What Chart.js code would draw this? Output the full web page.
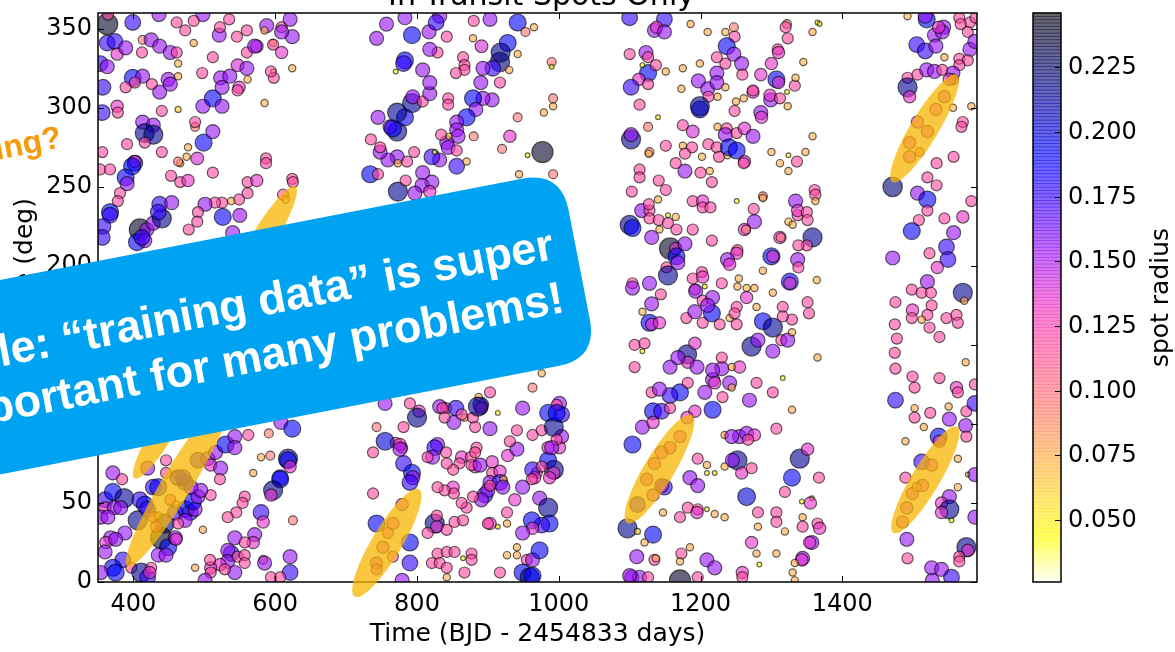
<!DOCTYPE html>
<html>
<head>
<meta charset="utf-8">
<script src="https://cdn.jsdelivr.net/npm/chart.js@4.4.0/dist/chart.umd.min.js"></script>
<style>
html, body { margin: 0; padding: 0; background: #fff; }
#wrap { width: 1175px; height: 652px; }
</style>
</head>
<body>
<div id="wrap"><canvas id="spots" width="1175" height="652"></canvas></div>
<script>
// in-transit spots, one array per observing season: [time, longitude, spot radius]
const season1 = [
  [363,353,.24],[399,354,.175],[436,359,.155],[364,359,.12],[413,343,.095],[425,343,.155],[437,339,.155],[452,335,.155],[461,335,.12],[463,328,.075],
  [363,341,.175],[374,342,.175],[377,334,.135],[389,338,.155],[412,335,.12],[353,328,.175],[363,326,.155],[399,319,.19],[413,320,.155],[426,315,.12],
  [437,310,.155],[449,318,.155],[452,315,.155],[463,320,.075],[389,313,.12],[402,316,.12],[357,313,.175],[377,301,.135],[378,297,.12],[356,297,.175],
  [413,291,.155],[428,289,.155],[416,284,.215],[428,283,.215],[416,278,.12],[391,277,.12],[440,298,.12],[463,299,.06],[440,272,.12],[402,265,.175],
  [402,266,.135],[398,263,.19],[356,272,.12],[353,261,.12],[367,261,.12],[389,256,.19],[391,252,.155],[381,246,.12],[378,241,.12],[367,234,.19],
  [367,232,.175],[357,225,.175],[356,218,.175],[409,223,.24],[419,223,.155],[428,227,.155],[440,230,.215],[437,239,.175],[454,240,.155],[405,215,.19],
  [416,216,.155],[466,265,.075],[453,257,.12],[466,253,.12],[477,254,.135],[477,275,.075],[475,269,.075],[490,268,.14],[499,278,.19],[512,285,.155],
  [487,288,.095],[487,291,.12],[463,266,.095],[512,259,.12],[498,301,.155],[512,306,.19],[525,301,.155],[497,322,.12],[523,319,.155],[525,313,.155],
  [536,320,.155],[547,327,.14],[560,325,.155],[549,313,.135],[547,311,.12],[512,332,.12],[560,335,.12],[574,339,.14],[571,339,.155],[546,345,.12],
  [521,346,.155],[522,351,.12],[535,356,.12],[498,359,.155],[485,355,.12],[461,354,.12],[473,349,.12],[485,341,.075],[560,349,.12],[588,352,.155],
  [585,349,.075],[609,351,.12],[621,356,.155],[624,345,.155],[609,348,.155],[597,341,.075],[597,340,.12],[609,335,.135],[597,323,.045],[598,319,.12],
  [594,323,.12],[561,318,.075],[624,325,.075],[585,303,.075],[587,268,.12],[587,265,.12],[561,253,.12],[574,254,.135],[624,255,.12],[625,253,.12],
  [611,245,.12],[615,242,.075],[561,246,.12],[549,242,.12],[538,241,.075],[525,240,.12],[515,240,.12],[501,239,.155],[491,234,.12],[490,228,.12],
  [526,231,.19],[550,232,.155],[540,221,.155],[478,223,.12],[412,218,.175],[435,234,.175],
  [371,69,.155],[384,65,.12],[360,52,.175],[371,57,.19],[387,53,.215],[360,47,.135],[373,47,.155],[382,47,.155],[354,41,.155],[364,41,.155],
  [409,52,.175],[416,49,.19],[428,60,.175],[435,60,.19],[420,72,.155],[446,77,.12],[446,69,.12],[460,68,.075],[406,39,.215],[420,46,.175],
  [388,31,.155],[368,28,.155],[361,25,.135],[360,19,.155],[375,27,.155],[385,14,.175],[371,9,.19],[375,6,.19],[354,6,.155],[397,9,.12],
  [411,6,.215],[420,3,.175],[425,9,.12],[423,6,.135],[444,37,.215],[439,28,.24],[449,22,.19],[435,17,.155],[446,17,.155],[459,28,.155],
  [460,27,.135],[428,41,.12],[435,42,.075],[432,35,.12],[459,44,.175],[474,46,.19],[480,44,.175],[473,39,.155],[487,46,.155],[463,37,.12],
  [452,52,.12],[460,49,.075],[484,51,.19],[491,54,.155],[509,55,.12],[495,58,.155],[481,60,.155],[473,63,.175],[470,66,.175],[463,66,.175],
  [491,77,.175],[505,78,.155],[509,74,.135],[523,72,.155],[522,65,.12],[516,82,.155],[530,87,.19],[543,92,.155],[543,85,.155],[562,93,.12],
  [580,79,.075],[593,80,.095],[618,78,.215],[618,77,.19],[621,73,.135],[607,66,.175],[607,65,.19],[597,58,.215],[594,55,.135],[569,69,.075],
  [557,54,.12],[554,50,.12],[545,44,.12],[533,41,.12],[580,44,.175],[583,38,.135],[625,39,.095],[498,33,.075],[543,28,.155],[571,30,.155],
  [569,25,.135],[557,25,.12],[538,18,.175],[533,20,.155],[533,13,.155],[547,16,.12],[557,17,.12],[557,12,.12],[583,14,.095],[585,12,.155],
  [621,16,.155],[621,6,.175],[543,6,.155],[522,11,.135],[509,9,.135],[529,8,.12],[509,6,.12],[501,1,.155],[487,9,.075],[508,14,.12],
  [594,3,.12],[607,3,.12],[608,101,.155],[624,97,.19],[591,94,.095]
];
const season2 = [
  [757,353,.155],[743,344,.155],[783,357,.155],[793,346,.19],[817,348,.155],[832,358,.155],[827,354,.175],[829,335,.12],[818,337,.155],[842,345,.12],
  [879,344,.075],[891,339,.14],[880,355,.12],[903,356,.155],[942,354,.19],[928,341,.19],[918,335,.215],[917,329,.22],[907,325,.175],[893,325,.155],
  [865,332,.12],[867,327,.12],[867,324,.12],[855,322,.12],[930,324,.075],[942,334,.075],[953,348,.095],[965,351,.075],[917,316,.12],[890,316,.155],
  [906,305,.155],[893,306,.155],[879,306,.19],[883,299,.155],[870,294,.19],[856,291,.155],[856,286,.155],[858,282,.155],[842,278,.155],[834,283,.12],
  [845,282,.06],[844,275,.155],[832,267,.155],[821,269,.175],[856,263,.175],[870,266,.075],[856,273,.12],[880,282,.095],[825,272,.045],[808,259,.155],
  [821,253,.155],[807,251,.155],[818,247,.135],[797,246,.155],[773,247,.215],[784,254,.12],[734,258,.19],[745,258,.12],[772,269,.155],[759,267,.155],
  [786,266,.12],[773,265,.075],[796,272,.12],[748,272,.155],[748,275,.12],[735,280,.12],[772,285,.215],[762,288,.155],[766,287,.19],[783,294,.19],
  [772,297,.215],[745,294,.155],[793,303,.215],[794,307,.155],[808,304,.12],[818,309,.155],[818,316,.155],[808,324,.155],[783,330,.19],[781,328,.175],
  [770,323,.045],[844,306,.12],[844,302,.12],[920,274,.095],[931,282,.135],[942,294,.095],[956,270,.045],[944,258,.075],[977,272,.24],[979,297,.075],
  [992,301,.075],[992,306,.095],[990,329,.095],[990,326,.045],[992,258,.095],
  [755,113,.155],[803,108,.135],[800,104,.215],[841,110,.12],[855,110,.175],[890,112,.175],[891,110,.135],[903,120,.12],[887,117,.075],[914,107,.045],
  [949,110,.155],[963,123,.095],[976,132,.075],[1001,113,.155],[1004,106,.175],[867,104,.075],[879,104,.12],[852,101,.155],[882,98,.12],[903,97,.155],
  [941,96,.12],[963,93,.12],[976,96,.12],[781,98,.12],[743,98,.095],[770,88,.12],[755,89,.2],[779,85,.12],[781,75,.175],[793,69,.19],
  [794,66,.155],[829,87,.155],[825,85,.175],[841,82,.12],[822,79,.155],[863,79,.135],[876,79,.12],[860,75,.12],[882,73,.135],[906,76,.135],
  [928,80,.135],[906,69,.12],[917,70,.135],[903,63,.155],[917,63,.175],[969,69,.12],[941,84,.155],[922,65,.075],[884,85,.12],[882,82,.12],
  [985,77,.19],[993,71,.215],[993,69,.135],[1004,92,.155],[1001,85,.135],[963,71,.175],[966,66,.135],[985,107,.19],[993,98,.215],
  [790,113,.12],[776,87,.135],[776,84,.155],[738,82,.12],[790,63,.175],[738,56,.12],[743,37,.19],[790,25,.19],[790,12,.175],[779,1,.155],
  [766,16,.12],[759,31,.12],[766,37,.135],[779,49,.135],[752,22,.135],[743,12,.135],[743,8,.12],
  [832,111,.155],[836,110,.12],[839,104,.12],[863,106,.12],[886,111,.215],[931,89,.12],[997,112,.12],[997,107,.19],[997,90,.12],
  [985,85,.135],[990,85,.155],[987,66,.135],[976,73,.12],[962,65,.12],[949,60,.155],[938,52,.135],[973,53,.155],[985,47,.215],[987,37,.19],
  [976,36,.175],[962,39,.19],[963,34,.135],[949,31,.155],[927,44,.12],[927,37,.075],[914,35,.045],[903,37,.135],[896,55,.175],[900,58,.155],
  [891,52,.155],[879,54,.12],[870,47,.12],[863,50,.12],[851,60,.135],[852,56,.12],[839,58,.12],[829,60,.12],[815,79,.12],[851,71,.12],
  [842,75,.12],[877,74,.12],[889,74,.155],[903,61,.12],[921,60,.155],[825,37,.215],[828,35,.135],[828,42,.12],[815,31,.12],[842,33,.12],
  [853,38,.12],[865,39,.12],[821,12,.12],[829,18,.12],[832,12,.12],[842,9,.12],[842,19,.12],[853,19,.12],[842,3,.075],[867,6,.12],
  [865,15,.045],[877,18,.12],[877,14,.12],[900,37,.12],[917,6,.12],[927,17,.075],[941,22,.075],[941,17,.075],[955,14,.12],[963,14,.155],
  [973,20,.19],[949,6,.19],[959,3,.215],[963,4,.19]
];
const season3 = [
  [1100,357,.175],[1100,334,.12],[1123,335,.155],[1126,322,.19],[1113,318,.135],[1126,315,.12],[1102,313,.175],[1114,302,.12],[1126,288,.095],[1102,280,.215],
  [1102,283,.155],[1128,272,.095],[1114,261,.12],[1114,256,.12],[1103,247,.12],[1117,235,.155],[1128,235,.12],[1128,230,.12],[1100,226,.215],[1104,224,.19],
  [1131,218,.155],[1135,349,.155],[1118,327,.045],[1140,294,.045],
  [1149,356,.175],[1138,351,.135],[1149,348,.155],[1186,353,.075],[1210,348,.075],[1235,348,.075],[1247,351,.095],[1248,345,.12],[1322,353,.095],[1320,351,.12],
  [1323,344,.12],[1309,337,.12],[1310,335,.135],[1358,348,.075],[1365,354,.045],[1368,353,.045],[1126,332,.12],[1137,327,.12],[1151,323,.075],[1151,276,.12],
  [1127,271,.075],[1141,254,.12],[1151,248,.12],[1140,242,.075],[1127,239,.12],[1141,229,.12],[1154,227,.12],[1165,231,.075],[1154,232,.045],[1142,223,.075],
  [1166,223,.12],[1189,223,.12],[1157,211,.24],[1165,211,.135],[1166,206,.19],[1168,202,.155],[1178,214,.155],[1152,199,.12],[1154,194,.215],[1104,189,.12],
  [1104,186,.155],[1128,189,.155],[1144,182,.12],[1131,176,.155],[1118,171,.075],[1128,164,.19],[1131,163,.135],[1142,164,.135],[1180,167,.12],[1192,171,.155],
  [1203,164,.12],[1216,170,.19],[1227,163,.12],[1241,167,.075],[1251,163,.12],[1175,325,.075],[1173,312,.075],[1199,328,.075],[1197,317,.155],[1210,312,.155],
  [1211,307,.12],[1223,322,.155],[1235,328,.12],[1223,332,.12],[1237,339,.19],[1247,334,.155],[1258,328,.155],[1259,321,.12],[1223,316,.155],[1235,313,.075],
  [1224,307,.075],[1199,299,.19],[1199,301,.215],[1248,298,.12],[1250,304,.075],[1261,306,.075],[1274,310,.135],[1274,311,.12],[1285,297,.155],[1286,294,.135],
  [1285,321,.135],[1300,328,.135],[1307,318,.19],[1310,316,.135],[1299,305,.155],[1298,308,.135],[1312,306,.12],[1322,310,.045],[1333,314,.12],[1334,319,.075],
  [1323,301,.075],[1345,329,.075],[1358,282,.075],[1175,289,.12],[1189,285,.14],[1175,276,.075],[1188,275,.12],[1178,271,.12],[1165,265,.12],[1178,260,.155],
  [1200,259,.12],[1213,260,.075],[1216,253,.12],[1202,269,.075],[1211,277,.12],[1223,275,.12],[1226,269,.12],[1238,270,.075],[1224,288,.075],[1237,287,.12],
  [1235,283,.155],[1251,284,.12],[1262,287,.135],[1240,275,.19],[1251,273,.19],[1262,266,.135],[1261,265,.12],[1274,282,.155],[1300,272,.075],[1312,265,.075],
  [1324,260,.075],[1324,270,.045],[1336,266,.12],[1348,272,.075],[1189,241,.12],[1203,241,.135],[1203,237,.12],[1214,237,.12],[1251,241,.045],[1288,244,.095],
  [1288,243,.075],[1275,236,.12],[1276,228,.155],[1262,223,.135],[1264,223,.095],[1216,216,.12],[1252,210,.12],[1251,208,.135],[1238,204,.155],[1241,201,.135],
  [1300,206,.19],[1302,206,.135],[1312,218,.135],[1313,218,.095],[1324,228,.075],[1330,226,.075],[1337,232,.12],[1334,241,.155],[1337,235,.135],[1350,234,.12],
  [1351,229,.12],[1361,248,.12],[1362,245,.12],[1362,241,.075],[1358,218,.215],[1350,213,.12],[1338,213,.12],[1337,204,.155],[1338,199,.12],[1326,190,.19],
  [1326,189,.135],[1364,191,.075],[1288,197,.075],[1254,192,.075],[1265,186,.075],[1276,186,.075],[1265,180,.135],[1279,174,.075],[1251,174,.12],[1248,170,.12],
  [1302,183,.075],[1316,174,.12],[1288,165,.19],[1302,161,.215],[1329,166,.12],[1316,168,.12],[1351,177,.12],[1353,170,.12],[1192,185,.12],[1193,184,.155],
  [1206,187,.045],[1203,178,.12],[1217,180,.155],[1210,175,.155],[1230,189,.12],[1252,187,.075],[1189,192,.12],[1202,196,.12],[1203,193,.135],
  [1104,87,.19],[1097,34,.215],[1111,32,.06],[1133,30,.19],[1121,25,.075],[1110,16,.155],[1135,14,.12],[1103,3,.155],[1114,3,.155],[1126,3,.12],
  [1107,150,.12],[1121,151,.12],[1118,146,.045],[1107,136,.12],[1131,120,.12],[1133,108,.19],[1118,98,.155],[1133,101,.135],
  [1157,136,.155],[1181,144,.215],[1182,139,.135],[1195,136,.155],[1192,151,.135],[1168,142,.155],[1171,120,.19],[1157,118,.175],[1142,122,.155],[1145,108,.175],
  [1157,110,.12],[1182,126,.12],[1192,108,.135],[1217,109,.19],[1206,120,.155],[1217,128,.155],[1220,126,.135],[1231,117,.12],[1241,126,.155],[1244,123,.075],
  [1230,135,.155],[1230,142,.12],[1217,134,.155],[1255,136,.135],[1244,136,.075],[1272,149,.215],[1281,153,.155],[1302,146,.155],[1314,153,.12],[1323,153,.155],
  [1329,158,.075],[1279,126,.12],[1269,115,.155],[1302,120,.12],[1316,129,.045],[1329,109,.075],[1307,97,.12],[1255,92,.155],[1265,94,.155],[1276,93,.135],
  [1267,90,.12],[1234,93,.075],[1244,92,.155],[1252,77,.215],[1258,69,.135],[1245,77,.155],[1234,73,.075],[1272,72,.12],[1265,54,.2],[1196,78,.12],
  [1209,74,.075],[1209,69,.045],[1220,69,.045],[1185,66,.155],[1196,61,.155],[1182,47,.12],[1196,46,.12],[1195,44,.135],[1209,46,.045],[1220,43,.075],
  [1234,41,.075],[1171,41,.12],[1147,44,.075],[1149,60,.175],[1137,15,.075],[1173,18,.12],[1171,13,.075],[1185,22,.075],[1209,14,.155],[1220,9,.155],
  [1196,3,.12],[1171,1,.24],[1100,4,.155],[1259,6,.135],[1259,3,.12],[1272,25,.135],[1279,18,.075],[1283,11,.045],[1307,18,.075],[1281,44,.12],
  [1281,35,.075],[1307,44,.12],[1307,38,.12],[1319,32,.075],[1319,57,.12],[1329,66,.19],[1340,78,.215],[1351,84,.135],[1344,41,.075],[1343,51,.045],
  [1357,53,.045],[1355,50,.135],[1344,35,.12],[1365,37,.12],[1368,34,.135],[1357,25,.155],[1354,25,.135],[1344,15,.155],[1343,14,.135],[1333,12,.075],
  [1330,6,.075],[1333,1,.075],[1367,66,.12],[1365,142,.075],
  [1181,104,.135],[1171,92,.135],[1157,85,.135],[1145,82,.135],[1135,75,.135],[1124,65,.135],[1145,61,.155],[1133,55,.135],[1111,49,.175]
];
const season4 = [
  [1492,358,.075],[1519,356,.19],[1517,358,.155],[1543,351,.155],[1565,357,.12],[1580,354,.12],[1588,357,.12],[1577,348,.12],[1567,353,.12],[1530,346,.155],
  [1541,348,.155],[1536,351,.135],[1505,340,.175],[1517,336,.175],[1532,339,.155],[1544,332,.075],[1565,331,.12],[1580,337,.155],[1587,342,.155],[1577,330,.12],
  [1565,327,.12],[1492,319,.12],[1506,321,.12],[1519,324,.155],[1530,323,.155],[1541,324,.12],[1556,322,.155],[1556,318,.12],[1492,313,.215],[1495,307,.135],
  [1556,300,.075],[1570,291,.12],[1568,288,.12],[1582,301,.075],[1557,269,.12],[1533,265,.12],[1520,256,.12],[1533,251,.12],[1471,250,.22],[1506,246,.155],
  [1520,242,.19],[1520,235,.12],[1582,241,.12],[1508,229,.12],[1544,230,.12],[1570,231,.135],[1498,222,.19],[1557,221,.155],[1547,212,.175],[1549,204,.175],
  [1523,208,.12],[1534,199,.135],[1471,205,.155],[1520,190,.155],[1498,185,.12],[1512,183,.12],[1525,183,.12],[1570,183,.215],[1572,178,.075],[1475,177,.12],
  [1499,172,.135],[1526,175,.12],[1520,169,.12],[1498,167,.12],[1547,167,.12],[1561,169,.12],[1563,164,.12],[1474,163,.12],[1512,166,.075],[1523,161,.12],
  [1495,269,.135],[1495,278,.135],[1509,272,.095],[1506,291,.135],[1520,285,.135],[1532,299,.135],[1544,307,.135],[1551,318,.135],
  [1477,154,.12],[1537,155,.12],[1474,145,.12],[1475,135,.12],[1499,130,.12],[1502,123,.12],[1537,129,.12],[1574,139,.075],[1561,123,.135],[1563,120,.12],
  [1587,125,.12],[1475,115,.175],[1502,110,.075],[1524,107,.12],[1550,111,.075],[1502,104,.12],[1515,98,.075],[1551,103,.155],[1575,108,.12],[1587,113,.175],
  [1574,99,.155],[1575,92,.12],[1489,89,.075],[1536,92,.19],[1563,78,.075],[1489,66,.12],[1577,68,.045],[1587,68,.155],[1563,60,.075],[1512,76,.175],
  [1551,54,.155],[1540,50,.135],[1551,46,.215],[1540,44,.135],[1554,39,.045],[1587,41,.155],[1491,27,.155],[1492,15,.12],[1526,9,.155],[1540,8,.155],
  [1527,1,.155],[1554,3,.175],[1575,22,.215],[1577,20,.135],[1565,16,.12],[1565,13,.12],
  [1537,89,.135],[1526,74,.135],[1513,61,.135],[1499,56,.135],[1491,47,.135],[1485,38,.135],[1505,60,.095]
];

const xTicks = [400, 600, 800, 1000, 1200, 1400];
const yTicks = [0, 50, 100, 150, 200, 250, 300, 350];
const radiusTicks = [0.050, 0.075, 0.100, 0.125, 0.150, 0.175, 0.200, 0.225];
const radiusRange = [0.026, 0.246];

// highlighted spot tracks: centre in data units, size in pixels
const tracks = [
  { t: 1516, lon: 287, len: 125, wid: 28 },
  { t: 1517, lon: 64.6, len: 124, wid: 28 },
  { t: 1142, lon: 71.5, len: 126, wid: 30 },
  { t: 757.5, lon: 24.7, len: 125, wid: 30 },
  { t: 464, lon: 64, len: 200, wid: 30 },
  { t: 438, lon: 92.7, len: 100, wid: 22 },
  { t: 583, lon: 216.5, len: 125, wid: 24 }
];

// colour map for spot radius
const cmapStops = [
  [0.026, [255,255,240]], [0.035, [255,255,120]], [0.043, [255,255,0]], [0.055, [255,225,30]],
  [0.075, [255,170,70]], [0.095, [255,115,110]], [0.12, [255,70,160]], [0.135, [230,45,200]],
  [0.155, [150,15,245]], [0.175, [50,0,255]], [0.19, [0,0,255]], [0.205, [0,0,190]],
  [0.225, [0,0,100]], [0.246, [0,0,10]]
];

function spotColor(r, alpha) {
  let c = cmapStops[cmapStops.length - 1][1];
  for (let i = 0; i < cmapStops.length - 1; i++) {
    const a = cmapStops[i], b = cmapStops[i + 1];
    if (r <= a[0]) { c = a[1]; break; }
    if (r <= b[0]) {
      const f = (r - a[0]) / (b[0] - a[0]);
      c = a[1].map((v, k) => Math.round(v + (b[1][k] - v) * f));
      break;
    }
  }
  return 'rgba(' + c[0] + ',' + c[1] + ',' + c[2] + ',' + alpha + ')';
}

const allSpots = season1.concat(season2, season3, season4);

const frameAndBar = {
  id: 'frameAndBar',
  afterDatasetsDraw(chart) {
    const ctx = chart.ctx;
    const a = chart.chartArea;
    const xs = chart.scales.x, ys = chart.scales.y, cb = chart.scales.cb;
    ctx.save();
    ctx.strokeStyle = '#000';
    ctx.lineWidth = 1;
    ctx.beginPath();
    xTicks.forEach(v => {
      const px = Math.round(xs.getPixelForValue(v)) + 0.5;
      ctx.moveTo(px, a.bottom); ctx.lineTo(px, a.bottom - 6);
      ctx.moveTo(px, a.top); ctx.lineTo(px, a.top + 6);
    });
    yTicks.forEach(v => {
      const py = Math.round(ys.getPixelForValue(v)) + 0.5;
      ctx.moveTo(a.left, py); ctx.lineTo(a.left + 6, py);
      ctx.moveTo(a.right, py); ctx.lineTo(a.right - 6, py);
    });
    ctx.stroke();
    ctx.lineWidth = 1.5;
    ctx.strokeRect(a.left, a.top, a.right - a.left, a.bottom - a.top);

    // colour bar
    const left = a.right + 56, w = 28;
    const lo = radiusRange[0], hi = radiusRange[1];
    const n = 170;
    for (let i = 0; i < n; i++) {
      const v0 = lo + (hi - lo) * i / n, v1 = lo + (hi - lo) * (i + 1) / n;
      const y0 = cb.getPixelForValue(v1), y1 = cb.getPixelForValue(v0);
      ctx.fillStyle = spotColor((v0 + v1) / 2, 0.6);
      ctx.fillRect(left, y0 - 0.4, w, y1 - y0 + 0.8);
    }
    const top = cb.getPixelForValue(hi), bot = cb.getPixelForValue(lo);
    ctx.strokeStyle = '#000';
    ctx.lineWidth = 1.5;
    ctx.strokeRect(left, top, w, bot - top);
    ctx.lineWidth = 1;
    ctx.fillStyle = '#000';
    ctx.font = '24px "DejaVu Sans"';
    ctx.textAlign = 'left';
    ctx.textBaseline = 'middle';
    radiusTicks.forEach(v => {
      const py = Math.round(cb.getPixelForValue(v)) + 0.5;
      ctx.beginPath();
      ctx.moveTo(left + w, py); ctx.lineTo(left + w - 6, py);
      ctx.stroke();
      ctx.fillText(v.toFixed(3), left + w + 7, py);
    });
    ctx.save();
    ctx.translate(1161, (top + bot) / 2);
    ctx.rotate(-Math.PI / 2);
    ctx.textAlign = 'center';
    ctx.font = '25px "DejaVu Sans"';
    ctx.fillText('spot radius', 0, 0);
    ctx.restore();
    ctx.restore();
  }
};

function roundedRect(ctx, x, y, w, h, r) {
  ctx.beginPath();
  ctx.moveTo(x + r, y);
  ctx.lineTo(x + w - r, y);
  ctx.quadraticCurveTo(x + w, y, x + w, y + r);
  ctx.lineTo(x + w, y + h - r);
  ctx.quadraticCurveTo(x + w, y + h, x + w - r, y + h);
  ctx.lineTo(x + r, y + h);
  ctx.quadraticCurveTo(x, y + h, x, y + h - r);
  ctx.lineTo(x, y + r);
  ctx.quadraticCurveTo(x, y, x + r, y);
  ctx.closePath();
}

const overlay = {
  id: 'overlay',
  afterDraw(chart) {
    const ctx = chart.ctx;
    const a = chart.chartArea;
    const xs = chart.scales.x, ys = chart.scales.y;
    const tilt = -11 * Math.PI / 180;

    // title, mostly above the page
    ctx.save();
    ctx.fillStyle = '#000';
    ctx.font = '30px "DejaVu Sans"';
    ctx.textAlign = 'center';
    ctx.textBaseline = 'alphabetic';
    ctx.fillText('In-Transit Spots Only', (a.left + a.right) / 2 + 4, 5);
    ctx.restore();

    // tracks
    ctx.save();
    ctx.fillStyle = 'rgba(247,182,0,0.75)';
    tracks.forEach(e => {
      ctx.beginPath();
      ctx.ellipse(xs.getPixelForValue(e.t), ys.getPixelForValue(e.lon), e.len / 2, e.wid / 2, -59 * Math.PI / 180, 0, Math.PI * 2);
      ctx.fill();
    });
    ctx.restore();

    // banner
    ctx.save();
    ctx.translate(561, 171);
    ctx.rotate(tilt);
    ctx.fillStyle = '#00a2f2';
    roundedRect(ctx, -900, 0, 900, 191, 40);
    ctx.fill();
    ctx.fillStyle = '#fff';
    ctx.font = 'bold 45px "Liberation Sans", Arial, sans-serif';
    ctx.textAlign = 'right';
    ctx.textBaseline = 'alphabetic';
    ctx.fillText('Example: \u201Ctraining data\u201D is super', -22, 85);
    ctx.fillText('important for many problems!', -22, 139);
    ctx.restore();

    ctx.save();
    ctx.translate(63, 147);
    ctx.rotate(tilt);
    ctx.fillStyle = '#f99a0c';
    ctx.font = 'bold 32px "Liberation Sans", Arial, sans-serif';
    ctx.textAlign = 'right';
    ctx.fillText('ing?', 0, 0);
    ctx.restore();
  }
};

const tickFont = { family: 'DejaVu Sans', size: 24 };

new Chart(document.getElementById('spots').getContext('2d'), {
  type: 'scatter',
  data: {
    datasets: [{
      data: allSpots.map(s => ({ x: s[0], y: s[1] })),
      pointRadius: allSpots.map(s => 42 * s[2] + 0.5),
      pointBackgroundColor: allSpots.map(s => spotColor(s[2], 0.6)),
      pointBorderColor: 'rgba(0,0,0,0.6)',
      pointBorderWidth: 1.2,
      clip: 0
    }]
  },
  options: {
    responsive: false,
    devicePixelRatio: 1,
    animation: false,
    events: [],
    layout: { padding: { left: 0, right: 198, top: 13, bottom: 0 } },
    plugins: {
      legend: { display: false },
      tooltip: { enabled: false }
    },
    scales: {
      x: {
        type: 'linear',
        min: 350,
        max: 1590,
        grid: { display: false, drawTicks: false },
        border: { display: false },
        afterBuildTicks: s => { s.ticks = xTicks.map(v => ({ value: v })); },
        afterFit: s => { s.height = 70; s.paddingLeft = 0; s.paddingRight = 0; },
        ticks: {
          font: tickFont,
          color: '#000',
          padding: 8,
          maxRotation: 0,
          autoSkip: false,
          callback: v => String(v)
        },
        title: {
          display: true,
          text: 'Time (BJD - 2454833 days)',
          color: '#000',
          font: { family: 'DejaVu Sans', size: 25 },
          padding: { top: 0, bottom: 3 }
        }
      },
      y: {
        type: 'linear',
        min: 0,
        max: 360,
        grid: { display: false, drawTicks: false },
        border: { display: false },
        afterBuildTicks: s => { s.ticks = yTicks.map(v => ({ value: v })); },
        afterFit: s => { s.width = 98; s.paddingTop = 0; s.paddingBottom = 0; },
        ticks: {
          font: tickFont,
          color: '#000',
          padding: 6,
          autoSkip: false,
          callback: v => String(v)
        },
        title: {
          display: true,
          text: 'Longitude (deg)',
          color: '#000',
          font: { family: 'DejaVu Sans', size: 25 },
          padding: { top: 10, bottom: 0 }
        }
      },
      cb: {
        type: 'linear',
        position: 'right',
        display: false,
        min: radiusRange[0],
        max: radiusRange[1]
      }
    }
  },
  plugins: [frameAndBar, overlay]
});
</script>
</body>
</html>
